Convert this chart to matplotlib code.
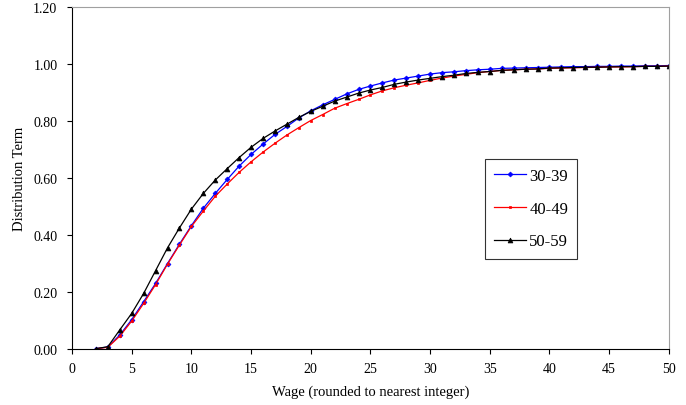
import matplotlib

matplotlib.use("Agg")
import matplotlib.pyplot as plt

plt.rcParams["font.family"] = ["Liberation Serif", "DejaVu Serif"]

wage = list(range(2, 51))

# distribution term per age band
band_30_39 = [0.001, 0.007, 0.049, 0.103, 0.166, 0.230, 0.300, 0.368, 0.433, 0.494,
              0.546, 0.595, 0.642, 0.683, 0.719, 0.753, 0.781, 0.811, 0.836, 0.857,
              0.876, 0.895, 0.911, 0.923, 0.934, 0.944, 0.951, 0.958, 0.965, 0.970,
              0.973, 0.977, 0.980, 0.982, 0.985, 0.986, 0.987, 0.988, 0.989, 0.990,
              0.991, 0.991, 0.992, 0.992, 0.993, 0.993, 0.994, 0.994, 0.995]
band_40_49 = [0.001, 0.006, 0.045, 0.098, 0.160, 0.226, 0.298, 0.365, 0.430, 0.484,
              0.536, 0.579, 0.620, 0.657, 0.691, 0.722, 0.751, 0.777, 0.802, 0.823,
              0.845, 0.861, 0.876, 0.892, 0.906, 0.917, 0.926, 0.934, 0.943, 0.951,
              0.958, 0.964, 0.970, 0.974, 0.978, 0.980, 0.982, 0.983, 0.985, 0.986,
              0.987, 0.988, 0.989, 0.990, 0.990, 0.991, 0.992, 0.992, 0.993]
band_50_59 = [0.001, 0.008, 0.067, 0.125, 0.195, 0.275, 0.355, 0.425, 0.491, 0.546,
              0.593, 0.633, 0.672, 0.708, 0.739, 0.765, 0.789, 0.813, 0.834, 0.852,
              0.870, 0.884, 0.898, 0.909, 0.918, 0.929, 0.937, 0.944, 0.950, 0.956,
              0.961, 0.967, 0.971, 0.974, 0.978, 0.980, 0.982, 0.983, 0.986, 0.987,
              0.988, 0.989, 0.989, 0.990, 0.991, 0.991, 0.992, 0.992, 0.993]

series = [
    ("30-39", band_30_39, "#0000ff", "D", 2.5),
    ("40-49", band_40_49, "#ff0000", "s", 2.0),
    ("50-59", band_50_59, "#000000", "^", 3.5),
]

fig = plt.figure(figsize=(6.86, 4.06), dpi=100)
ax = fig.add_axes([0.105, 0.138, 0.870, 0.842])

for label, values, color, marker, msize in series:
    ax.plot(wage, values, color=color, lw=0.9, marker=marker, markersize=msize,
            markeredgewidth=0.5, label=label)

ax.set_xlim(0, 50)
ax.set_ylim(0, 1.2)
ax.set_xticks(range(0, 51, 5))
ax.set_yticks([i * 0.2 for i in range(7)])
ax.set_yticklabels([f"{i * 0.2:.2f}" for i in range(7)])
ax.tick_params(axis="both", labelsize=10, direction="out", length=3.5, width=0.8)
ax.tick_params(axis="x", pad=6)
ax.tick_params(axis="y", pad=7)

ax.spines["left"].set_color("black")
ax.spines["bottom"].set_color("black")
ax.spines["top"].set_color("#a0a0a0")
ax.spines["right"].set_color("#a0a0a0")

ax.set_xlabel("Wage (rounded to nearest integer)", fontsize=10.5, labelpad=7)
ax.set_ylabel("Distribution Term", fontsize=10.5, labelpad=5)

leg = ax.legend(loc="upper left", bbox_to_anchor=(0.692, 0.556), fontsize=12,
                frameon=True, fancybox=False, edgecolor="black", handlelength=1.9,
                labelspacing=1.0, borderpad=0.55, handletextpad=0.2, borderaxespad=0)
leg.get_frame().set_linewidth(0.8)

fig.savefig("out.png", dpi=100)
